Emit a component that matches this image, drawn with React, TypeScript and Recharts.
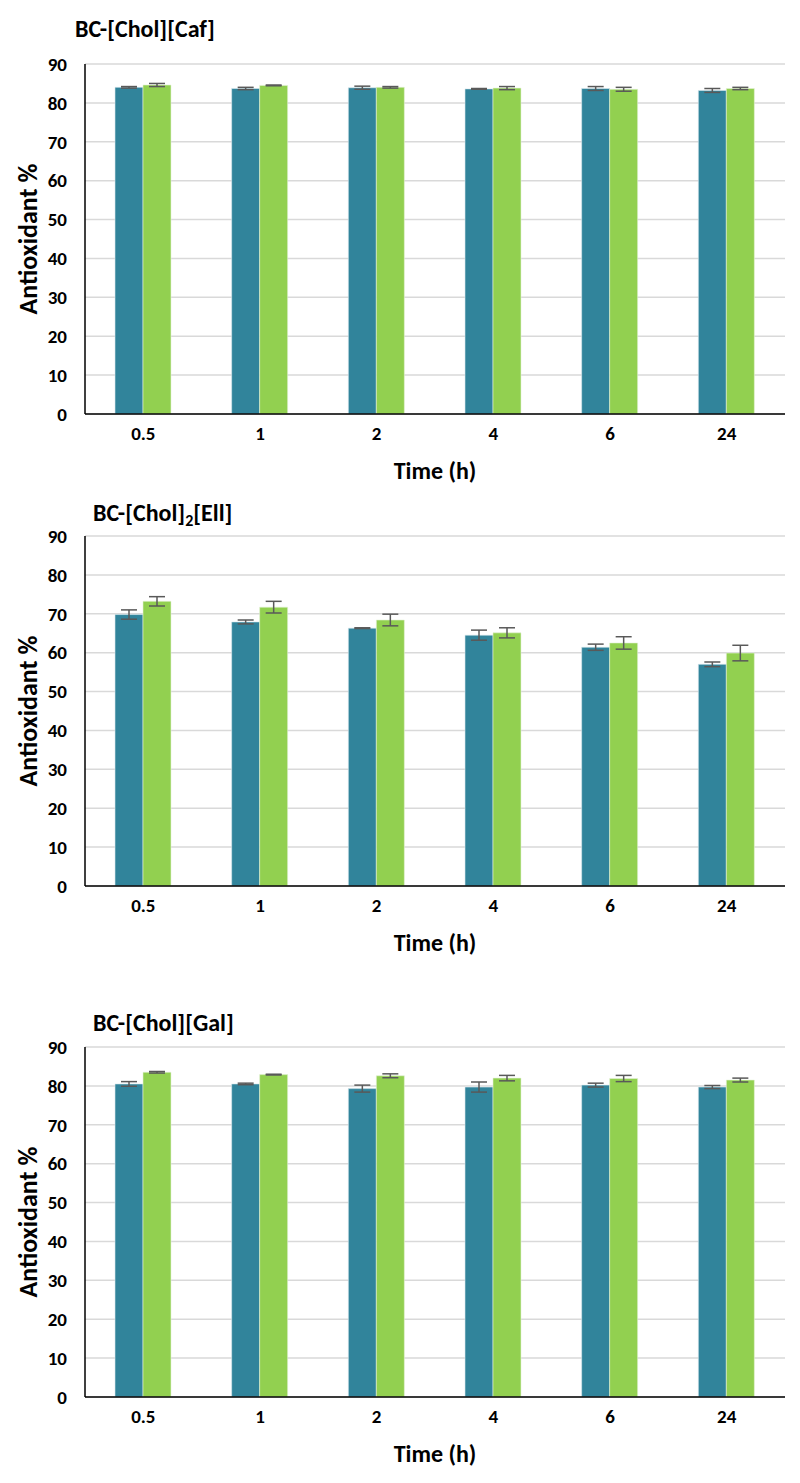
import React from "react";
import { BarChart, Bar, XAxis, YAxis, CartesianGrid, ErrorBar } from "recharts";

const categories = ["0.5", "1", "2", "4", "6", "24"];
const yTicks = [0, 10, 20, 30, 40, 50, 60, 70, 80, 90];

// BC-[Chol][Caf]
const cafA = [84.0, 83.7, 83.9, 83.6, 83.7, 83.2];
const cafAErr = [0.2, 0.3, 0.4, 0.1, 0.5, 0.5];
const cafB = [84.6, 84.5, 84.0, 83.8, 83.5, 83.7];
const cafBErr = [0.4, 0.1, 0.2, 0.4, 0.5, 0.3];

// BC-[Chol]2[Ell]
const ellA = [69.8, 67.9, 66.3, 64.5, 61.4, 57.0];
const ellAErr = [1.2, 0.5, 0.1, 1.3, 0.8, 0.6];
const ellB = [73.2, 71.7, 68.4, 65.1, 62.5, 59.9];
const ellBErr = [1.2, 1.5, 1.5, 1.3, 1.6, 2.0];

// BC-[Chol][Gal]
const galA = [80.5, 80.5, 79.3, 79.7, 80.2, 79.7];
const galAErr = [0.6, 0.2, 0.9, 1.3, 0.5, 0.4];
const galB = [83.5, 82.9, 82.6, 82.0, 81.9, 81.5];
const galBErr = [0.2, 0.1, 0.5, 0.7, 0.8, 0.5];

const FONT = "Carlito, 'Liberation Sans Narrow', 'Noto Sans', sans-serif";
const TEAL = "#31849b";
const GREEN = "#92d050";

function Panel(props: {
  title: React.ReactNode;
  a: number[];
  aErr: number[];
  b: number[];
  bErr: number[];
  top: number;
  titleX: number;
  titleY: number;
}) {
  const data = categories.map((c, i) => ({
    time: c,
    a: props.a[i],
    aErr: props.aErr[i],
    b: props.b[i],
    bErr: props.bErr[i],
  }));
  return (
    <>
      <div
        style={{
          position: "absolute",
          left: props.titleX,
          top: props.top + props.titleY,
          fontFamily: FONT,
          fontWeight: 700,
          fontSize: 24,
          lineHeight: "28px",
          color: "#000",
          whiteSpace: "nowrap",
        }}
      >
        {props.title}
      </div>
      <div style={{ position: "absolute", left: 0, top: props.top }}>
        <BarChart
          width={800}
          height={490}
          data={data}
          margin={{ top: 64, right: 15, left: 0, bottom: 0 }}
          barGap={0}
          barSize={28}
          style={{ fontFamily: FONT }}
        >
          <CartesianGrid vertical={false} stroke="#d9d9d9" strokeWidth={1.5} />
          <XAxis
            dataKey="time"
            height={76}
            tickLine={false}
            axisLine={{ stroke: "#000", strokeWidth: 1.5 }}
            tick={{ fill: "#000", fontSize: 19, fontWeight: 700 }}
            tickMargin={7}
            label={{
              value: "Time (h)",
              position: "insideBottom",
              offset: 11,
              style: { fill: "#000", fontSize: 24, fontWeight: 700 },
            }}
          />
          <YAxis
            width={85}
            domain={[0, 90]}
            ticks={yTicks}
            interval={0}
            tickLine={false}
            axisLine={{ stroke: "#000", strokeWidth: 1.5 }}
            tick={{ fill: "#000", fontSize: 19, fontWeight: 700 }}
            tickMargin={12}
            label={{
              value: "Antioxidant %",
              angle: -90,
              position: "insideLeft",
              offset: 28,
              style: { fill: "#000", fontSize: 26, fontWeight: 700, textAnchor: "middle" },
            }}
          />
          <Bar dataKey="a" fill={TEAL} stroke="#dbe9ee" strokeWidth={0.6} isAnimationActive={false}>
            <ErrorBar dataKey="aErr" width={8} stroke="#595959" strokeWidth={1.5} isAnimationActive={false} />
          </Bar>
          <Bar dataKey="b" fill={GREEN} stroke="#e4f2d6" strokeWidth={0.6} isAnimationActive={false}>
            <ErrorBar dataKey="bErr" width={8} stroke="#595959" strokeWidth={1.5} isAnimationActive={false} />
          </Bar>
        </BarChart>
      </div>
    </>
  );
}

export default function App() {
  return (
    <div style={{ position: "absolute", left: 0, top: 0, width: 800, height: 1483, background: "#fff" }}>
      <Panel title="BC-[Chol][Caf]" a={cafA} aErr={cafAErr} b={cafB} bErr={cafBErr} top={0} titleX={75} titleY={15} />
      <Panel
        title={
          <span>
            BC-[Chol]<sub style={{ fontSize: 16, verticalAlign: "-5px", lineHeight: 0 }}>2</sub>[Ell]
          </span>
        }
        a={ellA}
        aErr={ellAErr}
        b={ellB}
        bErr={ellBErr}
        top={472}
        titleX={93}
        titleY={27}
      />
      <Panel title="BC-[Chol][Gal]" a={galA} aErr={galAErr} b={galB} bErr={galBErr} top={983} titleX={93} titleY={26} />
    </div>
  );
}
